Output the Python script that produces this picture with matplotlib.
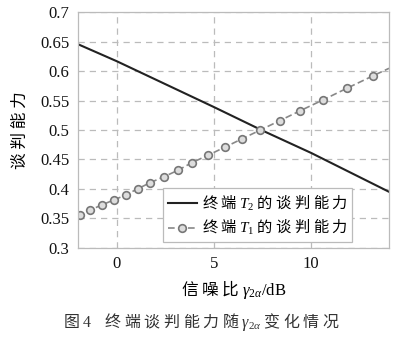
import matplotlib
matplotlib.use("Agg")
import matplotlib.pyplot as plt

plt.rcParams['font.family'] = ['Liberation Serif', 'Noto Sans CJK SC']
# mathtext: serif for latin/greek symbols
plt.rcParams['mathtext.fontset'] = 'custom'
plt.rcParams['mathtext.rm'] = 'Liberation Serif'
plt.rcParams['mathtext.it'] = 'Liberation Serif:italic'
plt.rcParams['mathtext.sf'] = 'Liberation Serif'
plt.rcParams['mathtext.bf'] = 'Liberation Serif:bold'
cjk = 'Noto Sans CJK SC'

# terminal T2 (solid black line)
t2_x = [-2, 0, 5, 7.5, 10, 14]
t2_y = [0.646, 0.617, 0.539, 0.499, 0.461, 0.395]

# terminal T1 (grey dashed with circles)
t1_x = [-2, -1.88, -1.35, -0.77, -0.15, 0.46, 1.08, 1.72, 2.44, 3.15, 3.87,
        4.69, 5.55, 6.43, 7.39, 8.38, 9.44, 10.6, 11.83, 13.16, 14]
t1_y = [0.354, 0.3556, 0.364, 0.3726, 0.381, 0.3895, 0.400, 0.4104, 0.4207,
        0.4315, 0.4445, 0.457, 0.4706, 0.4847, 0.500, 0.5158, 0.5328, 0.551,
        0.5708, 0.5918, 0.6048]
t1_mark = list(range(1, 20))

fig = plt.figure(figsize=(4.03, 3.41), dpi=100)
ax = fig.add_axes([77.7/403, 1-247.7/341, 311.3/403, 235.4/341])

ax.plot(t2_x, t2_y, color='#222222', lw=1.5,
        label='终 端 $T_\\mathrm{2}$ 的 谈 判 能 力')
ax.plot(t1_x, t1_y, color='#888888', lw=1.2, ls=(0, (4, 2)), marker='o',
        markevery=t1_mark, ms=5.5, mfc='#dddddd', mec='#777777', mew=1.2,
        label='终 端 $T_\\mathrm{1}$ 的 谈 判 能 力')

ax.set_xlim(-2, 14)
ax.set_ylim(0.3, 0.7)
ax.set_xticks([0, 5, 10])
ax.set_yticks([0.3, 0.35, 0.4, 0.45, 0.5, 0.55, 0.6, 0.65, 0.7])
ax.set_yticklabels(['0.3', '0.35', '0.4', '0.45', '0.5', '0.55', '0.6', '0.65', '0.7'])
ax.tick_params(length=0, labelsize=12, pad=6, colors='#111111')
ax.grid(True, color='#bbbbbb', ls=(0, (5, 4)), lw=0.9)
for s in ax.spines.values():
    s.set_color('#bbbbbb')
    s.set_linewidth(0.9)

ax.set_xlabel('信 噪 比 $\\gamma_{\\mathrm{2}\\alpha}\\mathrm{/dB}$', fontsize=12,
              labelpad=4, family=cjk)
ax.set_ylabel('谈 判 能 力', fontsize=12, labelpad=8, family=cjk)

leg = ax.legend(loc='lower right', bbox_to_anchor=(0.882, 0.025), borderaxespad=0,
                prop={'family': cjk, 'size': 11}, fancybox=False, framealpha=1,
                edgecolor='#bbbbbb', handlelength=1.9, handletextpad=0.35,
                borderpad=0.3, labelspacing=0.3)
leg.get_frame().set_linewidth(0.9)

fig.text(0.5, 1-322/341,
         '图 $\\mathrm{4}$    终 端 谈 判 能 力 随 $\\gamma_{\\mathrm{2}\\alpha}$ 变 化 情 况',
         ha='center', va='center', fontsize=11.5, color='#333333', family=cjk)

fig.savefig('out.png', dpi=100)
